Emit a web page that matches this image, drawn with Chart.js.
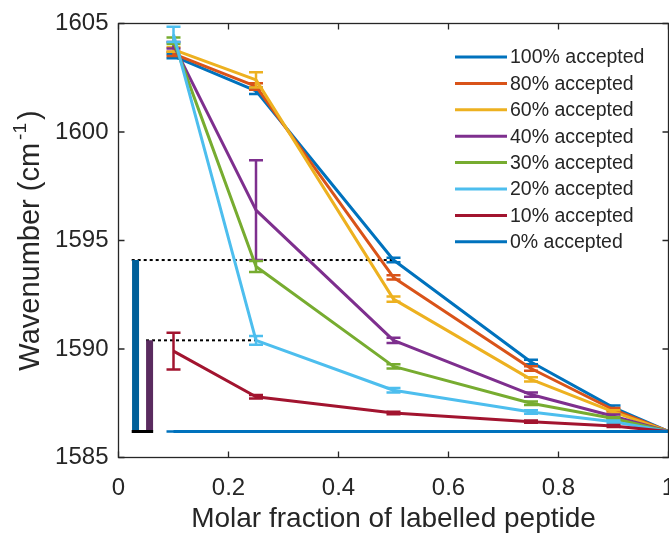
<!DOCTYPE html>
<html>
<head>
<meta charset="utf-8">
<script src="https://cdn.jsdelivr.net/npm/chart.js@4.4.1/dist/chart.umd.min.js"></script>
<style>
  html, body { margin: 0; padding: 0; background: #fff; }
</style>
</head>
<body>
<canvas id="shiftChart" width="669" height="536"></canvas>
<script>
// x positions (molar fraction of labelled peptide)
const fractions = [0.1, 0.25, 0.5, 0.75, 0.9, 1];

const seriesLabels = ['100% accepted', '80% accepted', '60% accepted', '40% accepted',
    '30% accepted', '20% accepted', '10% accepted', '0% accepted'];

const acc100 = [1603.5, 1601.9, 1594.1, 1589.4, 1587.3, 1586.2];
const acc80 = [1603.6, 1602.1, 1593.3, 1589.1, 1587.2, 1586.2];
const acc60 = [1603.8, 1602.4, 1592.3, 1588.6, 1587.1, 1586.2];
const acc40 = [1604.0, 1596.4, 1590.4, 1587.9, 1586.9, 1586.2];
const acc30 = [1604.2, 1593.8, 1589.2, 1587.5, 1586.8, 1586.2];
const acc20 = [1604.5, 1590.4, 1588.1, 1587.1, 1586.65, 1586.2];
const acc10 = [1589.9, 1587.8, 1587.05, 1586.65, 1586.45, 1586.2];
const acc0 = [1586.2, 1586.2, 1586.2, 1586.2, 1586.2, 1586.2];

const err100 = [0.1, 0.15, 0.1, 0.1, 0.1, 0];
const err80 = [0.1, 0.15, 0.1, 0.1, 0.08, 0];
const err60 = [0.1, 0.35, 0.12, 0.1, 0.08, 0];
const err40 = [0.15, 2.3, 0.12, 0.1, 0.08, 0];
const err30 = [0.15, 0.25, 0.1, 0.08, 0.06, 0];
const err20 = [0.35, 0.2, 0.1, 0.08, 0.06, 0];
const err10 = [0.85, 0.08, 0.06, 0.05, 0.05, 0];
const err0 = [0, 0, 0, 0, 0, 0];

const seriesValues = [acc100, acc80, acc60, acc40, acc30, acc20, acc10, acc0];
const seriesErrors = [err100, err80, err60, err40, err30, err20, err10, err0];
const seriesColors = ['#0072BD', '#D95319', '#EDB120', '#7E2F8E', '#77AC30', '#4DBEEE', '#A2142F', '#0072BD'];

// shift markers drawn at the left of the plot
const markerBase = 1586.2;
const markerTops = [1594.1, 1590.4];
const markerX = [0.031, 0.0565];
const dottedStart = [0.024, 0.05];
const dottedEnd = [0.5, 0.25];
const baseLineX = [0.024, 0.063];
const markerColors = ['#00609a', '#5a2b5f'];

const yTicks = [1585, 1590, 1595, 1600, 1605];
const xTicks = [0, 0.2, 0.4, 0.6, 0.8, 1];

const textColor = '#262626';
const fontFamily = "'Liberation Sans', Arial, Helvetica, sans-serif";

const datasets = [];

// dotted guides and vertical markers first so the series sit on top
markerTops.forEach((top, i) => {
    datasets.push({
        data: [{ x: dottedStart[i], y: top }, { x: dottedEnd[i], y: top }],
        borderColor: '#000',
        borderWidth: 2,
        borderDash: [3, 3],
        pointRadius: 0,
        order: 20
    });
    datasets.push({
        data: [{ x: markerX[i], y: markerBase }, { x: markerX[i], y: top }],
        borderColor: markerColors[i],
        borderWidth: 7,
        borderCapStyle: 'butt',
        pointRadius: 0,
        order: 19
    });
});
datasets.push({
    data: [{ x: baseLineX[0], y: markerBase }, { x: baseLineX[1], y: markerBase }],
    borderColor: '#000',
    borderWidth: 3,
    pointRadius: 0,
    order: 18
});

seriesLabels.forEach((label, i) => {
    datasets.push({
        label: label,
        data: fractions.map((x, j) => ({ x: x, y: seriesValues[i][j] })),
        errors: seriesErrors[i],
        borderColor: seriesColors[i],
        backgroundColor: seriesColors[i],
        borderWidth: 3,
        borderJoinStyle: 'round',
        pointRadius: 0,
        order: 10 - i
    });
});

const errorBars = {
    id: 'errorBars',
    afterDatasetDraw(chart, args) {
        const ds = chart.data.datasets[args.index];
        if (!ds.errors) return;
        const ctx = chart.ctx;
        const area = chart.chartArea;
        const xs = chart.scales.x, ys = chart.scales.y;
        ctx.save();
        ctx.beginPath();
        ctx.rect(area.left, area.top, area.right - area.left, area.bottom - area.top);
        ctx.clip();
        ctx.strokeStyle = ds.borderColor;
        ctx.lineWidth = 2.5;
        ds.data.forEach((p, j) => {
            const e = ds.errors[j];
            const px = xs.getPixelForValue(p.x);
            const top = ys.getPixelForValue(p.y + e);
            const bot = ys.getPixelForValue(p.y - e);
            ctx.beginPath();
            ctx.moveTo(px, top); ctx.lineTo(px, bot);
            ctx.moveTo(px - 7, top); ctx.lineTo(px + 7, top);
            ctx.moveTo(px - 7, bot); ctx.lineTo(px + 7, bot);
            ctx.stroke();
        });
        ctx.restore();
    }
};

const frameAndLabels = {
    id: 'frameAndLabels',
    afterDraw(chart) {
        const ctx = chart.ctx;
        const a = chart.chartArea;
        const xs = chart.scales.x, ys = chart.scales.y;
        ctx.save();
        ctx.strokeStyle = textColor;
        ctx.lineWidth = 1.3;
        ctx.strokeRect(a.left, a.top, a.right - a.left, a.bottom - a.top);
        ctx.beginPath();
        xTicks.forEach(v => {
            const px = xs.getPixelForValue(v);
            ctx.moveTo(px, a.bottom); ctx.lineTo(px, a.bottom - 6);
            ctx.moveTo(px, a.top); ctx.lineTo(px, a.top + 6);
        });
        yTicks.forEach(v => {
            const py = ys.getPixelForValue(v);
            ctx.moveTo(a.left, py); ctx.lineTo(a.left + 6, py);
            ctx.moveTo(a.right, py); ctx.lineTo(a.right - 6, py);
        });
        ctx.stroke();

        // y axis title with superscript
        const main = '29px ' + fontFamily;
        const sup = '19px ' + fontFamily;
        ctx.fillStyle = textColor;
        ctx.translate(31, (a.top + a.bottom) / 2);
        ctx.rotate(-Math.PI / 2);
        ctx.textBaseline = 'middle';
        ctx.font = main;
        const p1 = 'Wavenumber (cm', p3 = ')';
        const gap = 3;
        const w1 = ctx.measureText(p1).width;
        const w3 = ctx.measureText(p3).width;
        ctx.font = sup;
        const w2 = ctx.measureText('-1').width;
        let x = -(w1 + w2 + w3 + 2 * gap) / 2;
        ctx.font = main;
        ctx.fillText(p1, x, 0);
        ctx.font = sup;
        ctx.fillText('-1', x + w1 + gap, -10);
        ctx.font = main;
        ctx.fillText(p3, x + w1 + w2 + 2 * gap, 0);
        ctx.restore();

        // legend
        ctx.save();
        ctx.font = '19.5px ' + fontFamily;
        ctx.textBaseline = 'middle';
        ctx.fillStyle = textColor;
        seriesLabels.forEach((label, i) => {
            const y = 57 + i * 26.4;
            ctx.strokeStyle = seriesColors[i];
            ctx.lineWidth = 3;
            ctx.beginPath();
            ctx.moveTo(455, y); ctx.lineTo(507, y);
            ctx.stroke();
            ctx.fillText(label, 510, y + 1);
        });
        ctx.restore();
    }
};

new Chart(document.getElementById('shiftChart'), {
    type: 'line',
    data: { datasets: datasets },
    options: {
        responsive: false,
        animation: false,
        layout: { padding: { top: 23.5, right: 0.5, left: 0, bottom: 0 } },
        plugins: {
            legend: { display: false },
            tooltip: { enabled: false }
        },
        scales: {
            x: {
                type: 'linear',
                min: 0,
                max: 1,
                afterBuildTicks: s => { s.ticks = xTicks.map(v => ({ value: v })); },
                afterFit: s => { s.height = 78.5; s.paddingLeft = 0; s.paddingRight = 0; },
                grid: { display: false, drawTicks: false },
                border: { display: false },
                ticks: {
                    padding: 16,
                    color: textColor,
                    font: { family: fontFamily, size: 24 },
                    callback: v => String(+v.toFixed(1))
                },
                title: {
                    display: true,
                    text: 'Molar fraction of labelled peptide',
                    color: textColor,
                    font: { family: fontFamily, size: 28 },
                    padding: { top: 0, bottom: 0 }
                }
            },
            y: {
                min: 1585,
                max: 1605,
                afterBuildTicks: s => { s.ticks = yTicks.map(v => ({ value: v })); },
                afterFit: s => { s.width = 118.5; s.paddingTop = 0; s.paddingBottom = 0; },
                grid: { display: false, drawTicks: false },
                border: { display: false },
                ticks: {
                    padding: 10,
                    color: textColor,
                    font: { family: fontFamily, size: 24 },
                    callback: v => String(v)
                }
            }
        }
    },
    plugins: [errorBars, frameAndLabels]
});
</script>
</body>
</html>
